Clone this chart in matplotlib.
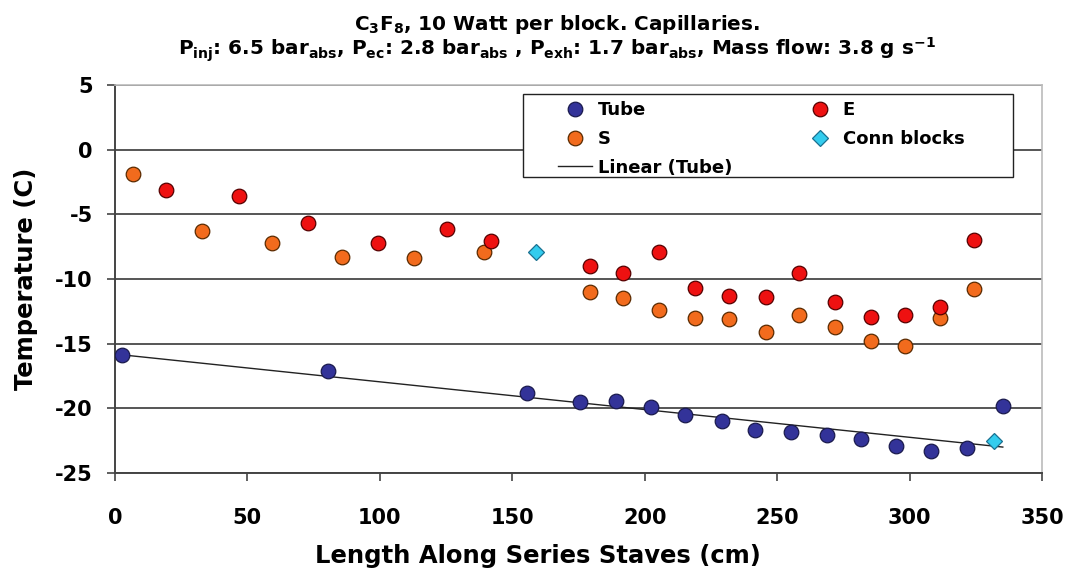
import matplotlib
matplotlib.use("Agg")
import matplotlib.pyplot as plt
from matplotlib.patches import Rectangle
import numpy as np

# ---- data ----
tube_x = [2.7, 80.6, 155.7, 175.4, 189.0, 202.5, 215.3, 229.1, 241.7, 255.2, 268.9, 281.6, 295.0, 308.2, 321.7, 335.2]
tube_y = [-15.9, -17.1, -18.8, -19.5, -19.4, -19.9, -20.5, -21.0, -21.7, -21.8, -22.1, -22.4, -22.9, -23.3, -23.1, -19.8]

e_x = [19.2, 46.7, 72.8, 99.2, 125.5, 142.1, 179.3, 191.8, 205.4, 219.1, 231.9, 245.7, 258.3, 271.8, 285.6, 298.2, 311.6, 324.5]
e_y = [-3.1, -3.6, -5.7, -7.2, -6.1, -7.1, -9.0, -9.5, -7.9, -10.7, -11.3, -11.4, -9.5, -11.8, -12.9, -12.8, -12.2, -7.0]

s_x = [6.7, 33.0, 59.2, 85.8, 113.0, 139.4, 179.3, 191.8, 205.4, 219.1, 231.9, 245.7, 258.3, 271.8, 285.6, 298.2, 311.6, 324.5]
s_y = [-1.9, -6.3, -7.2, -8.3, -8.4, -7.9, -11.0, -11.5, -12.4, -13.0, -13.1, -14.1, -12.8, -13.7, -14.8, -15.2, -13.0, -10.75]

conn_x = [159.0, 331.7]
conn_y = [-7.9, -22.5]

x_ticks = [0, 50, 100, 150, 200, 250, 300, 350]
y_ticks = [5, 0, -5, -10, -15, -20, -25]

title_line1 = r"C$_{\mathrm{3}}$F$_{\mathrm{8}}$, 10 Watt per block. Capillaries."
title_line2 = (r"P$_{\mathrm{inj}}$: 6.5 bar$_{\mathrm{abs}}$, P$_{\mathrm{ec}}$: 2.8 bar$_{\mathrm{abs}}$ , "
               r"P$_{\mathrm{exh}}$: 1.7 bar$_{\mathrm{abs}}$, Mass flow: 3.8 g s$^{\mathrm{-1}}$")

# ---- style ----
plt.rcParams['font.family'] = ['DejaVu Sans']
plt.rcParams['font.weight'] = 'bold'
plt.rcParams['axes.unicode_minus'] = False
plt.rcParams['mathtext.fontset'] = 'custom'
plt.rcParams['mathtext.rm'] = 'DejaVu Sans:bold'
plt.rcParams['mathtext.bf'] = 'DejaVu Sans:bold'
plt.rcParams['mathtext.it'] = 'DejaVu Sans:bold'

W, H = 1071, 569
fig = plt.figure(figsize=(W / 100, H / 100), dpi=100)
ax_l, ax_r, ax_t, ax_b = 115, 1042, 85, 473
ax = fig.add_axes([ax_l / W, 1 - ax_b / H, (ax_r - ax_l) / W, (ax_b - ax_t) / H])

def axx(px):
    return (px - ax_l) / (ax_r - ax_l)

def axy(py):
    return (ax_b - py) / (ax_b - ax_t)

ax.set_xlim(0, 350)
ax.set_ylim(-25, 5)
ax.set_xticks(x_ticks)
ax.set_yticks(y_ticks)
ax.yaxis.grid(True, color='#555555', linewidth=1.4)
ax.set_axisbelow(True)

for side in ['left', 'bottom']:
    ax.spines[side].set_color('#444444')
    ax.spines[side].set_linewidth(1.4)
for side in ['top', 'right']:
    ax.spines[side].set_color('#bbbbbb')
    ax.spines[side].set_linewidth(1.2)

ax.tick_params(axis='both', direction='out', length=6, width=1.2, color='#444444', labelsize=15)
ax.tick_params(axis='y', pad=10)
ax.tick_params(axis='x', pad=19)
for lab in ax.get_xticklabels() + ax.get_yticklabels():
    lab.set_fontweight('bold')

ms = 10.5
h_tube, = ax.plot(tube_x, tube_y, 'o', color='#333399', markeredgecolor='#1a1a4d',
                  markeredgewidth=0.9, markersize=ms, label='Tube', zorder=3)
h_s, = ax.plot(s_x, s_y, 'o', color='#F26B1D', markeredgecolor='#5a2a00',
               markeredgewidth=0.9, markersize=ms, label='S', zorder=3)
h_e, = ax.plot(e_x, e_y, 'o', color='#EE1111', markeredgecolor='#550000',
               markeredgewidth=0.9, markersize=ms, label='E', zorder=3)
h_c, = ax.plot(conn_x, conn_y, 'D', color='#33CCEE', markeredgecolor='#1a7090',
               markeredgewidth=0.9, markersize=8, label='Conn blocks', zorder=4)

coef = np.polyfit(tube_x, tube_y, 1)
lx = np.array([min(tube_x), max(tube_x)])
h_lin, = ax.plot(lx, np.polyval(coef, lx), '-', color='#222222', linewidth=1.0,
                 label='Linear (Tube)', zorder=2)

# legend frame
ax.add_patch(Rectangle((axx(523), axy(177)), axx(1013) - axx(523), axy(94) - axy(177),
                       transform=ax.transAxes, facecolor='white', edgecolor='#222222',
                       linewidth=1.0, zorder=5))

leg_kw = dict(loc='upper left', frameon=False, borderpad=0, borderaxespad=0,
              labelspacing=0.6, handlelength=1.9, handletextpad=0.3,
              prop={'size': 13, 'weight': 'bold'})
leg1 = ax.legend(handles=[h_tube, h_s, h_lin], bbox_to_anchor=(axx(558), axy(101)), **leg_kw)
leg1.set_zorder(6)
ax.add_artist(leg1)
leg2 = ax.legend(handles=[h_e, h_c], bbox_to_anchor=(axx(803), axy(101)), **leg_kw)
leg2.set_zorder(6)

ax.set_xlabel('Length Along Series Staves (cm)', fontsize=17.5, fontweight='bold')
ax.xaxis.set_label_coords(axx(538), axy(544))
ax.set_ylabel('Temperature (C)', fontsize=17.5, fontweight='bold', labelpad=12)

fig.text(557 / W, 1 - 30 / H, title_line1, ha='center', va='baseline', fontsize=14.4, fontweight='bold')
fig.text(557 / W, 1 - 56 / H, title_line2, ha='center', va='baseline', fontsize=14.4, fontweight='bold')

fig.savefig('out.png', dpi=100)
